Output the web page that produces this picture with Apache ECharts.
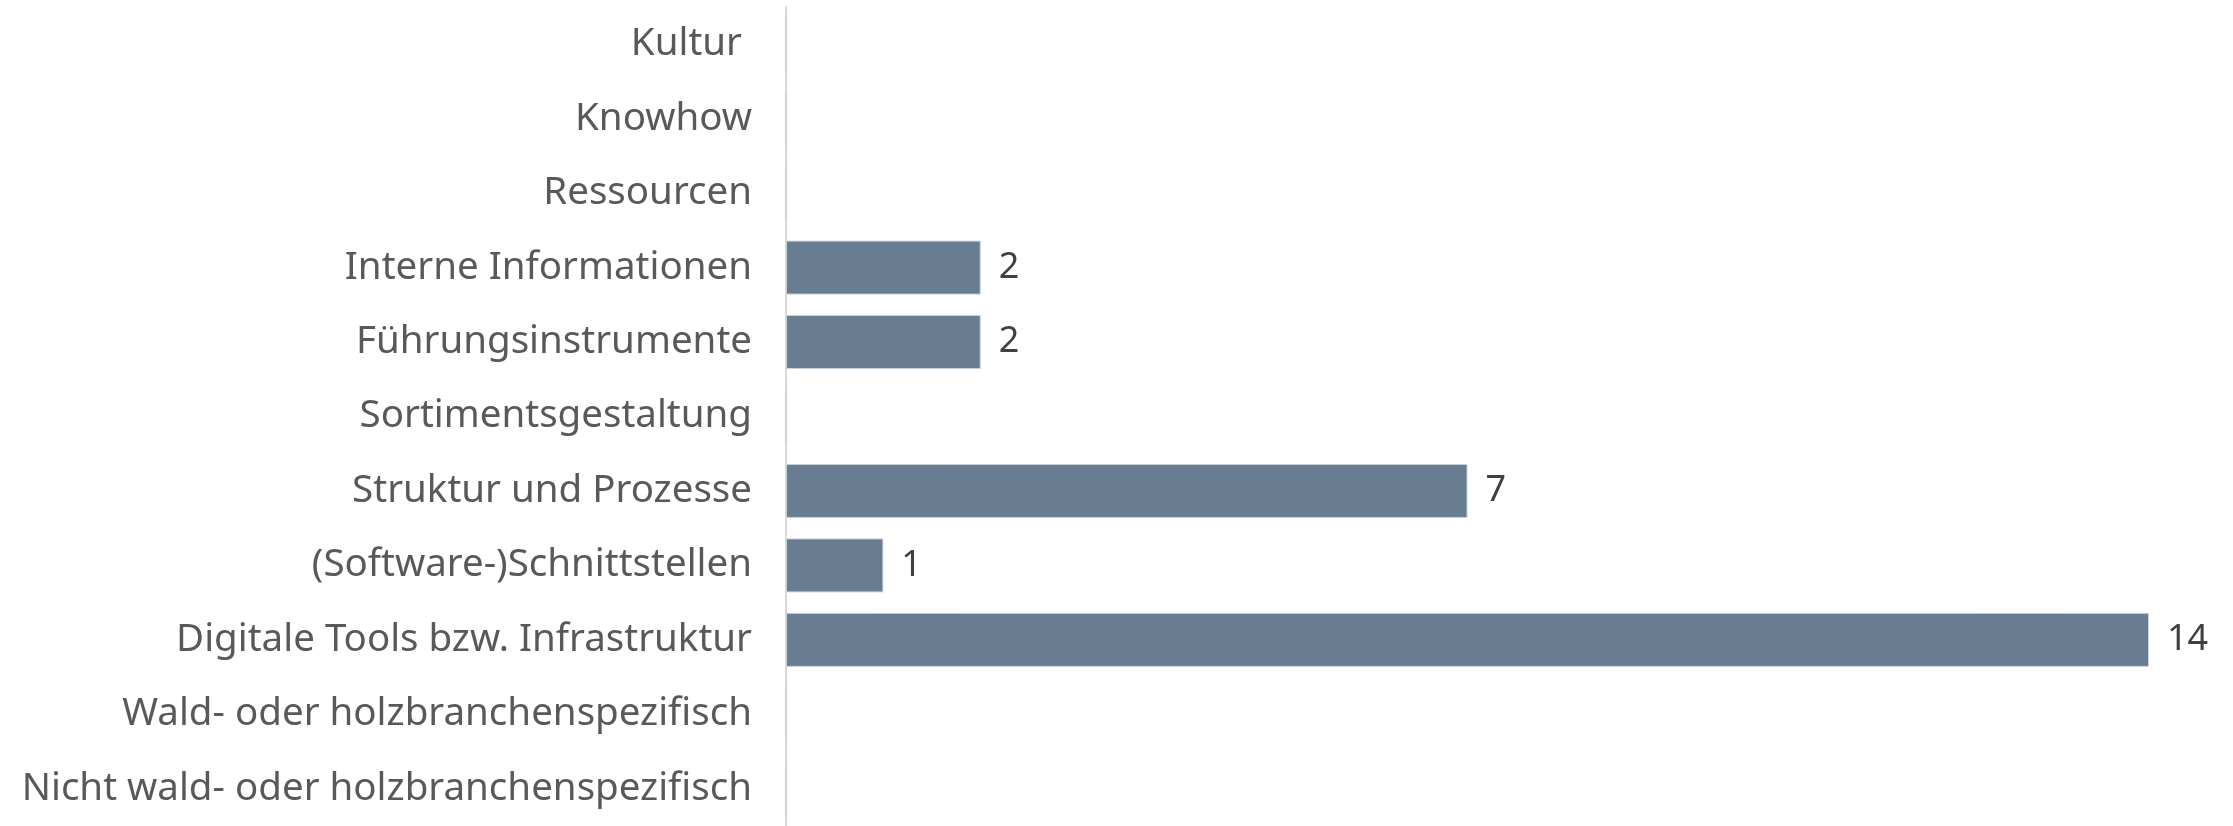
<!DOCTYPE html>
<html><head><meta charset="utf-8">
<script src="https://cdn.jsdelivr.net/npm/echarts@6/dist/echarts.min.js"></script>
<style>html,body{margin:0;padding:0;background:#fff}#c{width:2233px;height:826px}</style>
</head><body><div id="c"></div>
<script>
const categories = ["Kultur ", "Knowhow", "Ressourcen", "Interne Informationen", "Führungsinstrumente", "Sortimentsgestaltung", "Struktur und Prozesse", "(Software-)Schnittstellen", "Digitale Tools bzw. Infrastruktur", "Wald- oder holzbranchenspezifisch", "Nicht wald- oder holzbranchenspezifisch"];
const values = [0, 0, 0, 2, 2, 0, 7, 1, 14, 0, 0];
const chart = echarts.init(document.getElementById('c'));
chart.setOption({
  animation: false,
  grid: {left: 786, right: 84, top: 7, bottom: -1, containLabel: false},
  xAxis: {type: 'value', min: 0, max: 14, show: false},
  yAxis: {type: 'category', data: categories, inverse: true,
    axisLine: {show: true, lineStyle: {color: '#d9d9d9', width: 2}},
    axisTick: {show: false},
    axisLabel: {color: '#595959', fontSize: 38.5, fontFamily: 'Noto Sans', margin: 34, padding: [5, 0, 0, 0]}},
  series: [{type: 'bar', data: values, barCategoryGap: '27.5%',
    itemStyle: {color: '#687d91', borderColor: '#c9d2db', borderWidth: 1},
    label: {show: true, position: 'right', distance: 18, color: '#404040', fontSize: 36, fontFamily: 'Noto Sans',
      padding: [5, 0, 0, 0],
      formatter: p => p.value > 0 ? String(p.value) : ''}}]
});
</script></body></html>
